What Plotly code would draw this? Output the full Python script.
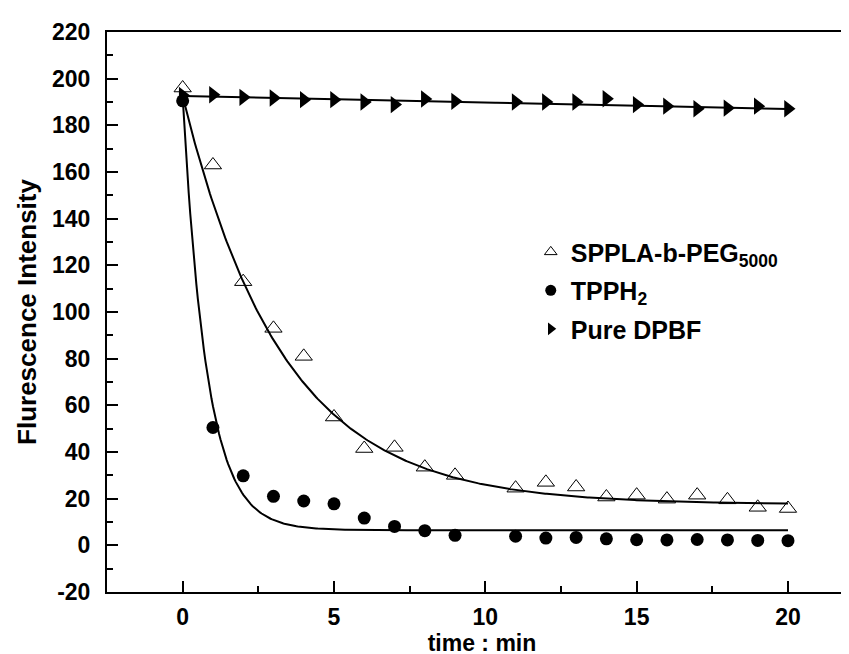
import numpy as np
import plotly.graph_objects as go

# ---- data ----
time_min = [0, 1, 2, 3, 4, 5, 6, 7, 8, 9, 11, 12, 13, 14, 15, 16, 17, 18, 19, 20]

sppla_peg = [196, 163, 113, 93, 81, 55, 41.5, 42, 33.5, 30, 24.5, 27, 25, 20.7, 21.5, 19.8, 21.5, 19.5, 16.3, 15.8]
tpph2 = [190.5, 50.5, 29.8, 21, 19, 17.8, 11.7, 8.1, 6.3, 4.3, 3.9, 3.1, 3.4, 2.8, 2.4, 2.3, 2.5, 2.3, 2.1, 2.0]
pure_dpbf = [192.8, 193.1, 192.0, 191.7, 191.0, 191.0, 190.0, 188.9, 191.3, 190.3, 190.0, 190.0, 190.0, 191.4, 188.9, 188.2, 187.1, 187.4, 188.2, 187.1]

# fit parameters (first-order decay y = y0 + A*exp(-t/tau); linear for DPBF)
fit_sppla = dict(y0=17.5, A=175.0, tau=3.3)
fit_tpph2 = dict(y0=6.5, A=185.5, tau=0.8)
fit_dpbf = dict(b=192.6, m=-0.28)

series_names = ["SPPLA-b-PEG<sub>5000</sub>", "TPPH<sub>2</sub>", "Pure DPBF"]

x_tick_vals = [0, 5, 10, 15, 20]
x_tick_text = ["0", "5", "10", "15", "20"]
y_tick_vals = [-20, 0, 20, 40, 60, 80, 100, 120, 140, 160, 180, 200, 220]
y_tick_text = ["-20", "0", "20", "40", "60", "80", "100", "120", "140", "160", "180", "200", "220"]

# ---- figure ----
t_fit = np.linspace(min(time_min), max(time_min), 400)
y_sppla_fit = fit_sppla["y0"] + fit_sppla["A"] * np.exp(-t_fit / fit_sppla["tau"])
y_tpph2_fit = fit_tpph2["y0"] + fit_tpph2["A"] * np.exp(-t_fit / fit_tpph2["tau"])
y_dpbf_fit = fit_dpbf["b"] + fit_dpbf["m"] * t_fit

FONT = "Liberation Sans, Arial, sans-serif"
fig = go.Figure()

line_style = dict(color="black", width=2)
for yf in (y_dpbf_fit, y_sppla_fit, y_tpph2_fit):
    fig.add_trace(go.Scatter(x=t_fit, y=yf, mode="lines", line=line_style,
                             showlegend=False, hoverinfo="skip"))

fig.add_trace(go.Scatter(x=time_min, y=pure_dpbf, mode="markers", showlegend=False,
                         marker=dict(symbol="triangle-right", size=15, color="black")))
fig.add_trace(go.Scatter(x=time_min, y=sppla_peg, mode="markers", showlegend=False,
                         marker=dict(symbol="triangle-up-open", size=15, color="black",
                                     line=dict(width=1, color="black"))))
fig.add_trace(go.Scatter(x=time_min, y=tpph2, mode="markers", showlegend=False,
                         marker=dict(symbol="circle", size=13, color="black")))

# legend entries (smaller symbols, as in the reference)
legend_markers = [
    dict(symbol="triangle-up-open", size=11, color="black", line=dict(width=1, color="black")),
    dict(symbol="circle", size=11, color="black"),
    dict(symbol="triangle-right", size=11, color="black"),
]
for i, (nm, mk) in enumerate(zip(series_names, legend_markers)):
    fig.add_trace(go.Scatter(x=[None], y=[None], mode="markers", name=nm, marker=mk,
                             legendgroup=f"g{i}"))

axis_common = dict(
    showline=True, linecolor="black", linewidth=2,
    ticks="inside", ticklen=11, tickwidth=2, tickcolor="black",
    showgrid=False, zeroline=False, tickmode="array",
    tickfont=dict(family=FONT, size=23, color="black", weight="bold"),
)

fig.update_xaxes(
    range=[-2.5, 22.28], tickvals=x_tick_vals, ticktext=x_tick_text, mirror=True,
    minor=dict(ticks="inside", ticklen=6, tickwidth=2, tickcolor="black", dtick=2.5, tick0=0),
    title=dict(text="time : min", font=dict(family=FONT, size=23, color="black", weight="bold"),
               standoff=0),
    ticklabelstandoff=3,
    **axis_common,
)
fig.update_yaxes(
    range=[-20, 220], tickvals=y_tick_vals, ticktext=y_tick_text, mirror=False,
    minor=dict(ticks="inside", ticklen=6, tickwidth=2, tickcolor="black", dtick=10, tick0=0),
    title=dict(text="Flurescence Intensity", font=dict(family=FONT, size=26, color="black", weight="bold"),
               standoff=8),
    ticklabelstandoff=10,
    **axis_common,
)

fig.update_layout(
    width=849, height=654,
    margin=dict(l=99, r=0, t=24, b=70),
    paper_bgcolor="white", plot_bgcolor="white",
    font=dict(family=FONT, color="black"),
    legend=dict(x=0.565, y=0.648, xanchor="left", yanchor="top",
                bgcolor="rgba(0,0,0,0)", tracegroupgap=3,
                font=dict(family=FONT, size=25, color="black", weight="bold")),
)

fig.write_html("out.html")
